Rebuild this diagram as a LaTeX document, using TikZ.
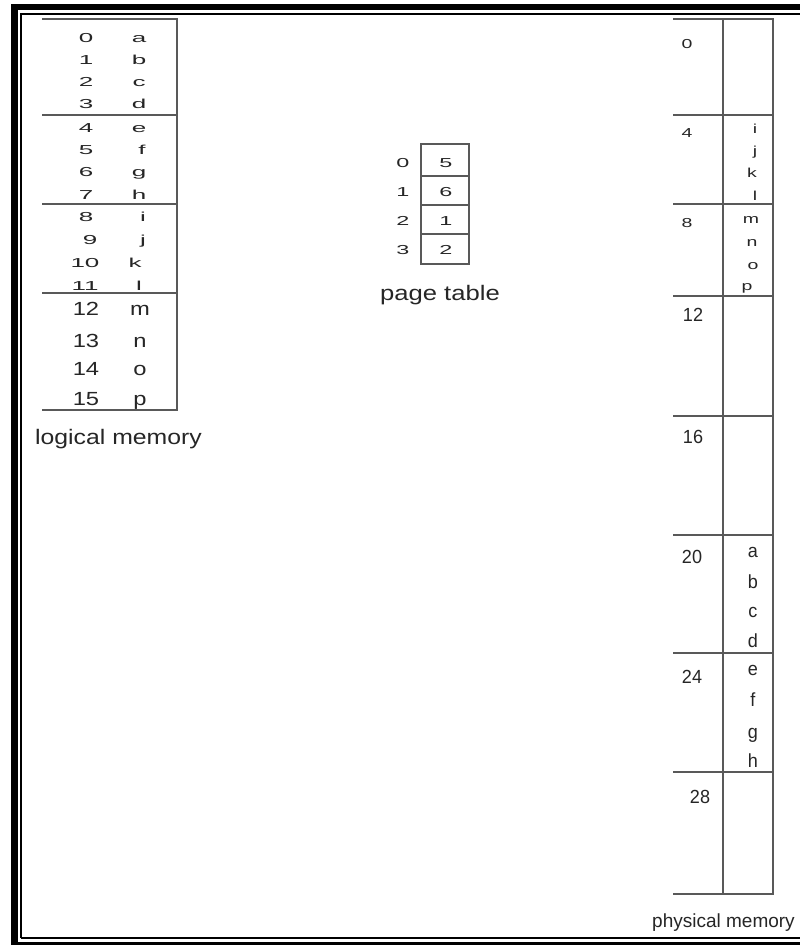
\documentclass[tikz,border=0pt]{standalone}
\usepackage{fontspec}
\usepackage{graphicx}
\setmainfont{Liberation Sans}
\definecolor{txt}{gray}{0.15}
\definecolor{ln}{gray}{0.35}
\newcommand{\wx}[2]{\scalebox{#1}[1]{#2}}
\begin{document}
\begin{tikzpicture}[x=1pt,y=-1pt,
  sm/.style={inner sep=0pt, anchor=base, text=txt, font=\fontsize{13}{15}\selectfont},
  bg/.style={inner sep=0pt, anchor=base, text=txt, font=\fontsize{19}{22}\selectfont},
  capt/.style={inner sep=0pt, anchor=base, text=txt, font=\fontsize{21}{24}\selectfont},
  grid/.style={draw=ln, line width=1.3pt}]
\useasboundingbox (0,0) rectangle (800,946);
\fill[white] (0,0) rectangle (800,946);
% frame
\fill[black] (11,4) rectangle (17.5,944.5);
\fill[black] (11,4) rectangle (800,10);
\fill[black] (11,941.5) rectangle (800,944.5);
\draw[black, line width=2pt] (21,937.5) -- (21,14) -- (800,14);
\draw[black, line width=2pt] (21,937.5) -- (800,937.5);

% logical memory
\draw[grid] (42,19) -- (177,19) -- (177,410) -- (42,410);
\foreach \yy in {115,204,293} \draw[grid] (42,\yy) -- (177,\yy);
\foreach \n/\l/\y/\nx/\lx in {0/a/42/86/139, 1/b/64/86/139, 2/c/86/86/139, 3/d/108/86/139,
  4/e/132/86/139, 5/f/154/86/142, 6/g/176/86/139, 7/h/199/86/139,
  8/i/221/86/143, 9/j/244/90/143, 10/k/267/85/135, 11/l/290/85/139}
{
  \node[sm] (ln\n) at (\nx,\y) {\wx{2}{\n}};
  \node[sm] (ll\n) at (\lx,\y) {\wx{2}{\l}};
}
\foreach \n/\l/\y in {12/m/315, 13/n/347, 14/o/375, 15/p/405}
{
  \node[bg] (ln\n) at (86,\y) {\wx{1.25}{\n}};
  \node[bg] (ll\n) at (140,\y) {\wx{1.25}{\l}};
}
\node[capt] (lcap) at (118.5,444) {\wx{1.18}{logical memory}};

% page table
\draw[grid] (421,144) rectangle (469,264);
\foreach \yy in {176,205,234} \draw[grid] (421,\yy) -- (469,\yy);
\foreach \n/\v/\y in {0/5/167, 1/6/196, 2/1/225, 3/2/254}
{
  \node[sm] (pi\n) at (403,\y) {\wx{1.8}{\n}};
  \node[sm] (pv\n) at (446,\y) {\wx{1.8}{\v}};
}
\node[capt] (pcap) at (440,300) {\wx{1.22}{page table}};

% physical memory
\draw[grid] (673,19) -- (773,19) -- (773,894) -- (673,894);
\draw[grid] (723,19) -- (723,894);
\foreach \yy in {115,204,296,416,535,653,772} \draw[grid] (673,\yy) -- (773,\yy);
\foreach \n/\y in {0/48, 4/137, 8/227}
  \node[sm] (fn\n) at (687,\y) {\wx{1.5}{\n}};
\foreach \l/\y/\x in {i/133/755, j/155/755, k/177/752, l/200/755,
  m/223/751, n/246/752, o/269/753, p/290/747}
  \node[sm] (fl\l) at (\x,\y) {\wx{1.5}{\l}};
\foreach \n/\y/\x in {12/321/693, 16/443/693, 20/563/692, 24/683/692, 28/803/700}
  \node[bg] (fn\n) at (\x,\y) {\wx{0.95}{\n}};
\foreach \l/\y in {a/557, b/588, c/617, d/647, e/675, f/706, g/738, h/767}
  \node[bg] (fb\l) at (753,\y) {\wx{0.95}{\l}};
\node[bg] (fcap) at (723.5,927) {physical memory};
\end{tikzpicture}
\end{document}
